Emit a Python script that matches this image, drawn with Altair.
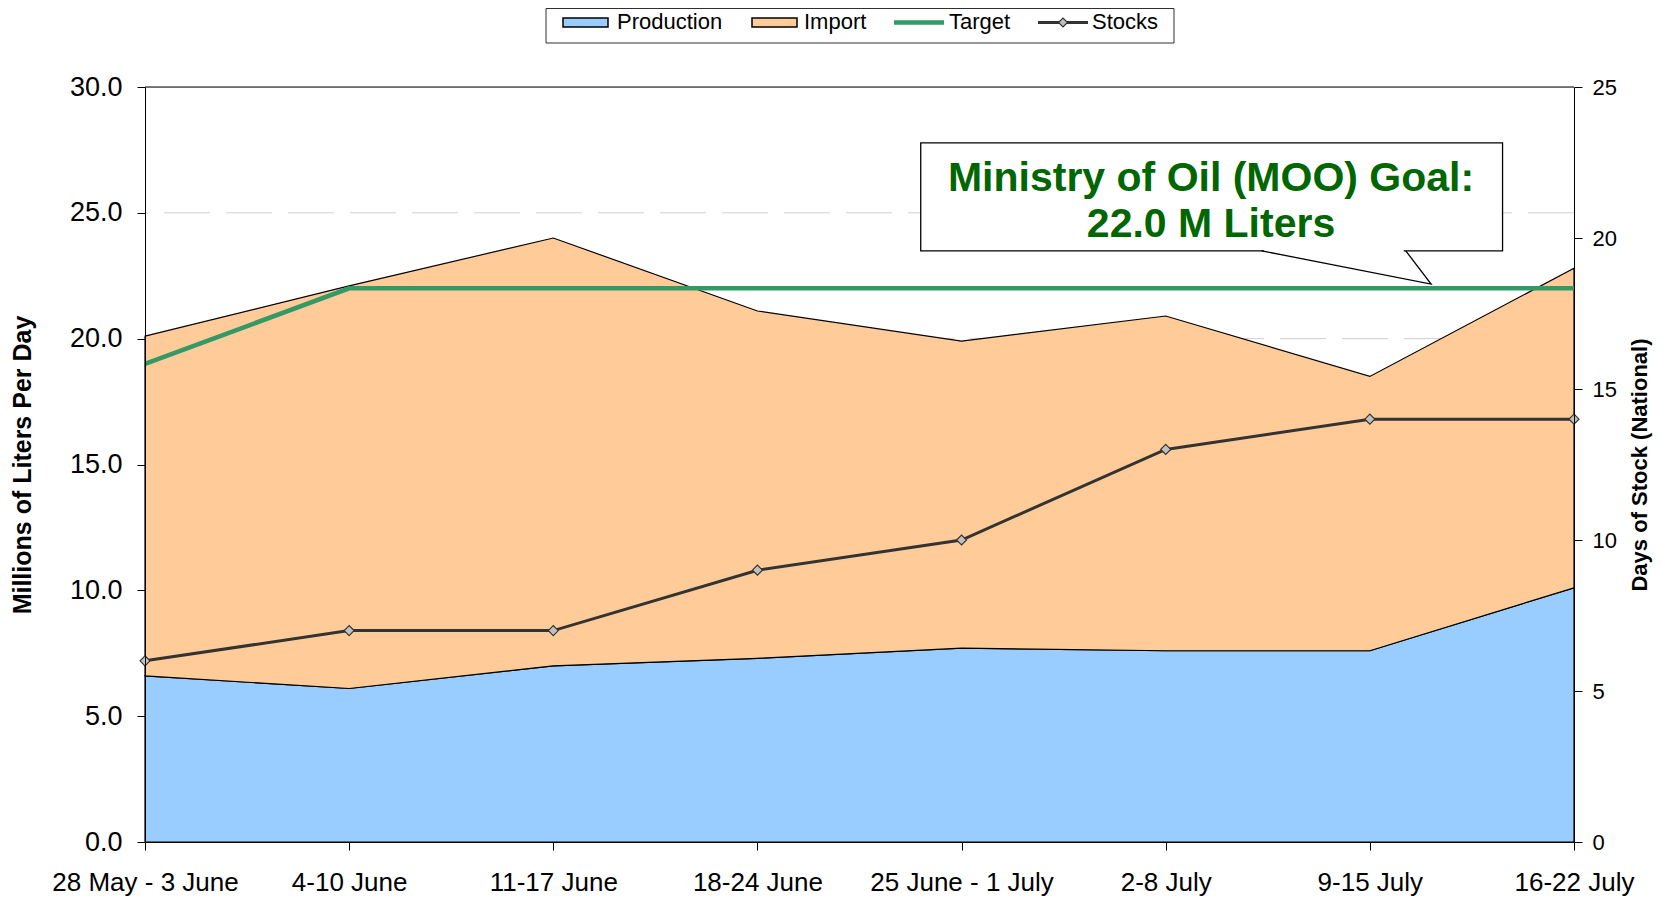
import json
import altair as alt
import pandas as pd

# ---------------- data ----------------
weeks = ["28 May - 3 June", "4-10 June", "11-17 June", "18-24 June",
         "25 June - 1 July", "2-8 July", "9-15 July", "16-22 July"]
production = [6.6, 6.1, 7.0, 7.3, 7.7, 7.6, 7.6, 10.1]
imports = [13.5, 16.0, 17.0, 13.8, 12.2, 13.3, 10.9, 12.7]
target = [19.0, 22.0, 22.0, 22.0, 22.0, 22.0, 22.0, 22.0]
stocks = [6, 7, 7, 9, 10, 13, 14, 14]
left_ticks = [0, 5, 10, 15, 20, 25, 30]
right_ticks = [0, 5, 10, 15, 20, 25]
grid_values = [5, 10, 15, 20, 25]
series_names = ["Production", "Import", "Target", "Stocks"]
callout_lines = ["Ministry of Oil (MOO) Goal:", "22.0 M Liters"]
left_title = "Millions of Liters Per Day"
right_title = "Days of Stock (National)"

FONT = "Liberation Sans, Arial, sans-serif"
C_PROD = "#99CCFF"
C_IMP = "#FFCC99"
C_TARGET = "#339966"
C_STOCK = "#333333"

idx = list(range(len(weeks)))

area_df = pd.DataFrame(
    [{"idx": i, "series": series_names[0], "order": 0, "value": v} for i, v in zip(idx, production)]
    + [{"idx": i, "series": series_names[1], "order": 1, "value": v} for i, v in zip(idx, imports)]
)
target_df = pd.DataFrame({"idx": idx, "target": target})
stock_df = pd.DataFrame({"idx": idx, "stocks": stocks})
grid_df = pd.DataFrame({"g": grid_values})
top_df = pd.DataFrame({"g": [left_ticks[-1]]})

# callout geometry (in data units)
box_df = pd.DataFrame({"x1": [3.80], "x2": [6.65], "y1": [27.78], "y2": [23.49]})
ptr_df = pd.DataFrame({"x": [5.47, 6.30, 6.176], "y": [23.49, 22.17, 23.49], "o": [0, 1, 2]})
gap_df = pd.DataFrame({"x1": [5.48], "x2": [6.166], "y": [23.49]})
text_df = pd.DataFrame({"x": [5.222, 5.222], "y": [25.87, 24.05], "t": callout_lines})

dummy = pd.DataFrame({"k": [0]})

xscale = alt.Scale(domain=[0, 7], nice=False, zero=False)
yl_scale = alt.Scale(domain=[0, 30], nice=False)
yr_scale = alt.Scale(domain=[0, 25], nice=False)

label_expr = json.dumps(weeks) + "[datum.value]"

x_axis = alt.Axis(values=idx, labelExpr=label_expr, tickSize=8, labelPadding=19,
                  labelFontSize=26, labelFont=FONT, labelColor="black",
                  domainColor="black", tickColor="black", labelOverlap=False,
                  labelFlush=False, labelBound=False, labelLimit=0, grid=False, zindex=1)

yl_axis = alt.Axis(values=left_ticks, format=".1f", tickSize=8, labelPadding=15,
                   labelFontSize=27, labelFont=FONT, labelColor="black",
                   domainColor="black", tickColor="black", grid=False, zindex=1,
                   titleFont=FONT, titleFontSize=25, titleFontWeight="bold",
                   titleColor="black", titleAngle=270, titleX=-123, titleY=377.5,
                   titleAlign="center", titleBaseline="middle")

yr_axis = alt.Axis(orient="right", values=right_ticks, format="d", tickSize=8,
                   labelPadding=10, labelFontSize=22, labelFont=FONT,
                   labelColor="black", domainColor="black", tickColor="black",
                   grid=False, zindex=1, titleFont=FONT, titleFontSize=22,
                   titleFontWeight="bold", titleColor="black", titleAngle=270,
                   titleX=65, titleY=377.5, titleAlign="center",
                   titleBaseline="middle")

grid = alt.Chart(grid_df).mark_rule(color="#CFCFCF", strokeWidth=1, strokeDash=[46, 16]).encode(
    y=alt.Y("g:Q", scale=yl_scale, axis=yl_axis, title=left_title)
)
top_rule = alt.Chart(top_df).mark_rule(color="black", strokeWidth=1).encode(
    y=alt.Y("g:Q", scale=yl_scale, title=left_title)
)

area = alt.Chart(area_df).mark_area(stroke="black", strokeWidth=1.2, opacity=1).encode(
    x=alt.X("idx:Q", scale=xscale, axis=x_axis, title=None),
    y=alt.Y("value:Q", stack="zero", scale=yl_scale, title=left_title),
    color=alt.Color("series:N", scale=alt.Scale(domain=series_names[:2], range=[C_PROD, C_IMP]), legend=None),
    order=alt.Order("order:Q"),
)

target_line = alt.Chart(target_df).mark_line(color=C_TARGET, strokeWidth=4.5).encode(
    x=alt.X("idx:Q", scale=xscale, title=None),
    y=alt.Y("target:Q", scale=yl_scale, title=left_title),
)

box = alt.Chart(box_df).mark_rect(fill="white", stroke="black", strokeWidth=1.3).encode(
    x=alt.X("x1:Q", scale=xscale, title=None), x2="x2:Q",
    y=alt.Y("y1:Q", scale=yl_scale, title=left_title), y2="y2:Q",
)
gap = alt.Chart(gap_df).mark_rule(color="white", strokeWidth=3).encode(
    x=alt.X("x1:Q", scale=xscale, title=None), x2="x2:Q",
    y=alt.Y("y:Q", scale=yl_scale, title=left_title),
)
pointer = alt.Chart(ptr_df).mark_line(color="black", strokeWidth=1.3).encode(
    x=alt.X("x:Q", scale=xscale, title=None),
    y=alt.Y("y:Q", scale=yl_scale, title=left_title),
    order="o:Q",
)
ctext = alt.Chart(text_df).mark_text(font=FONT, fontWeight="bold", fontSize=41, color="#006600",
                                     align="center", baseline="alphabetic").encode(
    x=alt.X("x:Q", scale=xscale, title=None),
    y=alt.Y("y:Q", scale=yl_scale, title=left_title),
    text="t:N",
)

# legend (decoration above the plot)
LY = -64.5
leg_box = alt.Chart(dummy).mark_rect(fill="white", stroke="#303030", strokeWidth=1).encode(
    x=alt.value(401), x2=alt.value(1029), y=alt.value(-78.5), y2=alt.value(-44))
leg_prod = alt.Chart(dummy).mark_rect(fill=C_PROD, stroke="black", strokeWidth=1.5).encode(
    x=alt.value(418), x2=alt.value(463), y=alt.value(LY - 4.5), y2=alt.value(LY + 4.5))
leg_imp = alt.Chart(dummy).mark_rect(fill=C_IMP, stroke="black", strokeWidth=1.5).encode(
    x=alt.value(607), x2=alt.value(652), y=alt.value(LY - 4.5), y2=alt.value(LY + 4.5))
leg_tgt = alt.Chart(dummy).mark_rule(color=C_TARGET, strokeWidth=4.5).encode(
    x=alt.value(749), x2=alt.value(799), y=alt.value(LY))
leg_stk = alt.Chart(dummy).mark_rule(color=C_STOCK, strokeWidth=3).encode(
    x=alt.value(893), x2=alt.value(943), y=alt.value(LY))
leg_dia = alt.Chart(dummy).mark_point(shape="diamond", filled=True, fill="#C0C0C0", stroke=C_STOCK,
                                      strokeWidth=1.2, size=80, opacity=1).encode(
    x=alt.value(918), y=alt.value(LY))
leg_texts = []
for name, xpos in zip(series_names, [472, 659, 804, 947]):
    leg_texts.append(
        alt.Chart(dummy).mark_text(text=name, font=FONT, fontSize=22, color="black",
                                   align="left", baseline="middle").encode(
            x=alt.value(xpos), y=alt.value(LY - 0.5))
    )

left = alt.layer(grid, top_rule, area, target_line, box, gap, pointer, ctext,
                 leg_box, leg_prod, leg_imp, leg_tgt, leg_stk, leg_dia, *leg_texts)

stock_line = alt.Chart(stock_df).mark_line(color=C_STOCK, strokeWidth=3).encode(
    x=alt.X("idx:Q", scale=xscale, title=None),
    y=alt.Y("stocks:Q", scale=yr_scale, axis=yr_axis, title=right_title),
)
stock_pts = alt.Chart(stock_df).mark_point(shape="diamond", filled=True, fill="#C0C0C0",
                                           stroke=C_STOCK, strokeWidth=1.2, size=100, opacity=1).encode(
    x=alt.X("idx:Q", scale=xscale, title=None),
    y=alt.Y("stocks:Q", scale=yr_scale, title=right_title),
)
right = alt.layer(stock_line, stock_pts)

chart = alt.layer(left, right).resolve_scale(y="independent").properties(
    width=1429, height=755,
    autosize=alt.AutoSizeParams(type="none"),
    padding={"left": 137, "top": 79, "right": 80, "bottom": 57},
).configure_view(stroke="black", strokeWidth=1).configure(font=FONT)

chart.save("out.html", embed_options={"renderer": "svg", "actions": False})
